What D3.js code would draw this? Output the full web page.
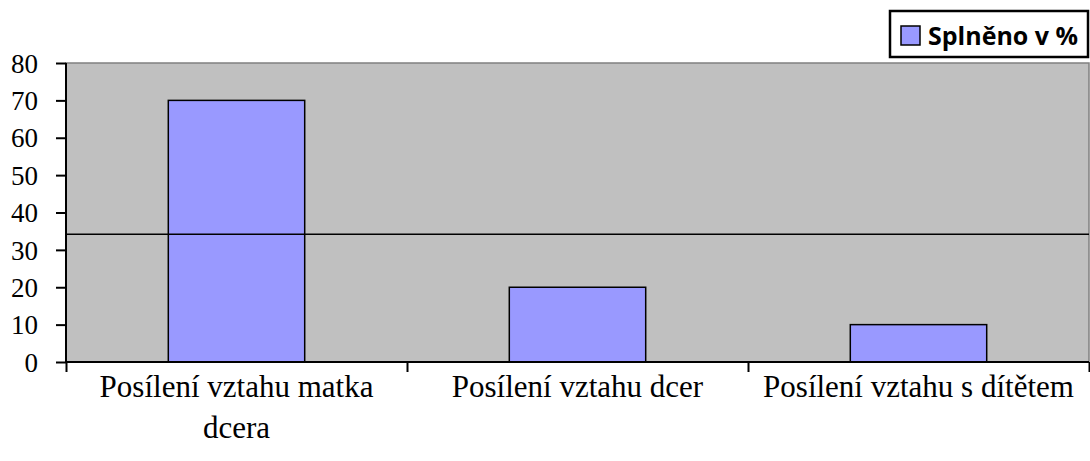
<!DOCTYPE html>
<html>
<head>
<meta charset="utf-8">
<script src="https://cdn.jsdelivr.net/npm/d3@7"></script>
<style>
  body { margin: 0; background: #fff; }
</style>
</head>
<body>
<div id="chart"></div>
<script>
// data
var categories = ["Posílení vztahu matka dcera", "Posílení vztahu dcer", "Posílení vztahu s dítětem"]
var values = [70, 20, 10]
var yTicks = [0, 10, 20, 30, 40, 50, 60, 70, 80]
var lineValue = 34.2
var seriesName = "Splněno v %"

var serif = "'Liberation Serif', 'Times New Roman', 'DejaVu Serif', serif"

var screen = {width: 1090, height: 461}
var margins = {top: 63, bottom: 99, left: 66, right: 1}

var width = screen.width - margins.left - margins.right
var height = screen.height - margins.top - margins.bottom

var svg = d3.select("#chart")
  .append("svg")
  .attr("width", screen.width)
  .attr("height", screen.height)

var xScale = d3.scaleBand()
  .domain(categories)
  .range([0, width])
  .paddingInner(0.6)
  .paddingOuter(0.3)

var yScale = d3.scaleLinear()
  .domain([0, 80])
  .range([height, 0])

var plot = svg.append("g")
  .attr("transform", "translate(" + margins.left + "," + margins.top + ")")

// grey plot area
plot.append("rect")
  .attr("x", 0)
  .attr("y", 0)
  .attr("width", width)
  .attr("height", height)
  .attr("fill", "#c0c0c0")
  .attr("stroke", "#808080")
  .attr("stroke-width", 1.5)

// bars
plot.selectAll("rect.bar")
  .data(values)
  .enter()
  .append("rect")
  .attr("class", "bar")
  .attr("x", function(d, i) { return xScale(categories[i]) })
  .attr("y", function(d) { return yScale(d) })
  .attr("width", xScale.bandwidth())
  .attr("height", function(d) { return height - yScale(d) })
  .attr("fill", "#9999ff")
  .attr("stroke", "#000")
  .attr("stroke-width", 1.5)

// horizontal line
plot.append("line")
  .attr("x1", 0)
  .attr("x2", width)
  .attr("y1", yScale(lineValue))
  .attr("y2", yScale(lineValue))
  .attr("stroke", "#000")
  .attr("stroke-width", 1.5)

// y axis
var yAxis = d3.axisLeft(yScale)
  .tickValues(yTicks)
  .tickSize(10)
  .tickPadding(18)

var yG = plot.append("g").call(yAxis)
  .attr("font-family", serif)
yG.select(".domain").attr("stroke-width", 2).attr("d", "M0,0V" + height)
yG.selectAll(".tick line").attr("stroke-width", 2)
yG.selectAll(".tick text")
  .style("font-family", serif)
  .style("font-size", "27px")
  .attr("dy", "0.34em")
  .attr("fill", "#000")

// x axis with category boundaries as ticks
var xEdge = d3.scaleLinear().domain([0, categories.length]).range([0, width])
var xAxis = d3.axisBottom(xEdge)
  .tickValues(d3.range(0, categories.length + 1))
  .tickSize(10)
  .tickFormat("")

var xG = plot.append("g")
  .attr("transform", "translate(0," + height + ")")
  .call(xAxis)
xG.select(".domain").attr("stroke-width", 2).attr("d", "M0,0H" + width)
xG.selectAll(".tick line").attr("stroke-width", 2)

// category labels, wrapped
var labelLines = [["Posílení vztahu matka", "dcera"], ["Posílení vztahu dcer"], ["Posílení vztahu s dítětem"]]
var labels = plot.selectAll("text.cat")
  .data(categories)
  .enter()
  .append("text")
  .attr("class", "cat")
  .attr("text-anchor", "middle")
  .attr("x", function(d) { return xScale(d) + xScale.bandwidth() / 2 })
  .attr("y", height + 35)
  .style("font-family", serif)
  .style("font-size", "31px")
  .attr("fill", "#000")

labels.each(function(d, i) {
  var t = d3.select(this)
  labelLines[i].forEach(function(line, j) {
    t.append("tspan")
      .attr("x", xScale(d) + xScale.bandwidth() / 2)
      .attr("dy", j === 0 ? 0 : 41)
      .text(line)
  })
})

// legend
var legend = svg.append("g").attr("transform", "translate(890,11)")
legend.append("rect")
  .attr("x", 0)
  .attr("y", 0)
  .attr("width", 198)
  .attr("height", 46)
  .attr("fill", "#fff")
  .attr("stroke", "#000")
  .attr("stroke-width", 2.5)
legend.append("rect")
  .attr("x", 11)
  .attr("y", 15)
  .attr("width", 19)
  .attr("height", 19)
  .attr("fill", "#9999ff")
  .attr("stroke", "#000")
  .attr("stroke-width", 1.5)
legend.append("text")
  .attr("x", 38)
  .attr("y", 34)
  .style("font-family", "'Open Sans', 'Liberation Sans', sans-serif")
  .style("font-weight", "bold")
  .style("font-size", "25px")
  .attr("fill", "#000")
  .text(seriesName)
</script>
</body>
</html>
